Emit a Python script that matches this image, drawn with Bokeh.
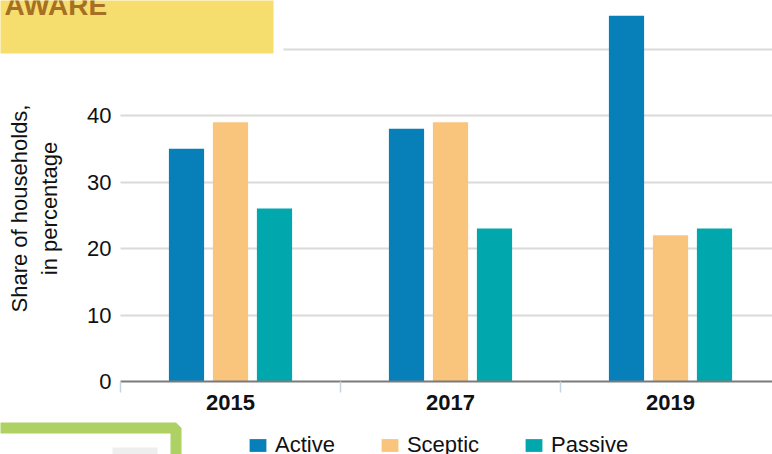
from bokeh.plotting import figure
from bokeh.models import (ColumnDataSource, Range1d, FixedTicker, Legend, LegendItem,
                          BoxAnnotation, Label)
from bokeh.embed import file_html
from bokeh.resources import INLINE

# ---- data ----
years = ["2015", "2017", "2019"]
series = ["Active", "Sceptic", "Passive"]
active = [35, 38, 55]
sceptic = [39, 39, 22]
passive = [26, 23, 23]
y_ticks = [0, 10, 20, 30, 40]
grid_ticks = [10, 20, 30, 40, 50]

colors = {"Active": "#0780BA", "Sceptic": "#F9C57C", "Passive": "#00A8AD"}
values = {"Active": active, "Sceptic": sceptic, "Passive": passive}
offsets = {"Active": -0.2, "Sceptic": 0.0, "Passive": 0.2}

FONT = "Liberation Sans"
W, H = 772, 454
X0, Y0 = 120, 381          # pixel position of the axes origin
PX_CAT, PX_UNIT = 220, 6.65  # pixels per category / per percentage point

p = figure(width=W, height=H, output_backend="svg", toolbar_location=None,
           x_range=Range1d(-X0 / PX_CAT, (W - X0) / PX_CAT),
           y_range=Range1d(-(H - Y0) / PX_UNIT, Y0 / PX_UNIT),
           min_border_left=0, min_border_right=0, min_border_top=0,
           min_border_bottom=0, outline_line_color=None)

centers = [i + 0.5 for i in range(len(years))]
items = []
for s in series:
    src = ColumnDataSource(dict(x=[c + offsets[s] for c in centers], top=values[s]))
    r = p.vbar(x="x", top="top", width=0.16, bottom=0, source=src,
               fill_color=colors[s], line_color=None)
    items.append(LegendItem(label=s, renderers=[r]))

# x axis
xa = p.xaxis[0]
xa.fixed_location = 0
xa.bounds = (0, 10)
xa.ticker = FixedTicker(ticks=centers, minor_ticks=[0, 1, 2, 3])
xa.major_label_overrides = {c: y for c, y in zip(centers, years)}
xa.major_tick_line_color = None
xa.major_tick_in = 0
xa.major_tick_out = 0
xa.minor_tick_line_color = "#C8D4E0"
xa.minor_tick_line_width = 1.5
xa.minor_tick_in = 0
xa.minor_tick_out = 11
xa.axis_line_color = "#7A7A7A"
xa.axis_line_width = 2
xa.major_label_text_font = FONT
xa.major_label_text_font_style = "bold"
xa.major_label_text_font_size = "22px"
xa.major_label_text_color = "#111111"
xa.major_label_standoff = 2

# y axis
ya = p.yaxis[0]
ya.fixed_location = 0
ya.bounds = (0, 52)
ya.ticker = FixedTicker(ticks=y_ticks, minor_ticks=[])
ya.axis_line_color = None
ya.major_tick_line_color = None
ya.major_tick_in = 0
ya.major_tick_out = 0
ya.minor_tick_line_color = None
ya.major_label_text_font = FONT
ya.major_label_text_font_size = "22px"
ya.major_label_text_color = "#111111"
ya.major_label_standoff = 9
ya.axis_label = "Share of households,\nin percentage"
ya.axis_label_text_font = FONT
ya.axis_label_text_font_style = "normal"
ya.axis_label_text_font_size = "22px"
ya.axis_label_text_color = "#111111"
ya.axis_label_standoff = 22

p.xgrid.grid_line_color = None
yg = p.ygrid[0]
yg.ticker = FixedTicker(ticks=grid_ticks)
yg.grid_line_color = "#DADADA"
yg.grid_line_width = 2
if "cross_bounds" in yg.properties():
    yg.cross_bounds = (0, 10)

legend = Legend(items=items, orientation="horizontal", location=(247, -4),
                glyph_width=21, glyph_height=16, label_standoff=7, spacing=44,
                padding=0, margin=0, border_line_color=None,
                background_fill_alpha=0, label_text_font=FONT,
                label_text_font_size="22px", label_text_color="#111111")
p.add_layout(legend, "center")

# decorative boxes (screen units: x from left, y up from the bottom edge)
def sbox(left, right, top, bottom, **kw):
    return BoxAnnotation(left=left, right=right, top=H - top, bottom=H - bottom,
                         left_units="screen", right_units="screen",
                         top_units="screen", bottom_units="screen",
                         fill_alpha=1, line_alpha=1, **kw)

p.add_layout(sbox(-5, 283, -5, 58, fill_color="white", line_color=None))
p.add_layout(sbox(-5, 273, -5, 53, fill_color="#F5DD6E", line_color=None))
p.add_layout(Label(x=4, y=H - 5, x_units="screen", y_units="screen", text="AWARE",
                   text_font=FONT, text_font_style="bold", text_font_size="28px",
                   text_color="#A66F24", text_baseline="alphabetic"))
p.add_layout(sbox(-10, 175.5, 427.5, 470, fill_color="white",
                  line_color="#ADD162", line_width=11))
p.add_layout(sbox(112, 157, 447, 470, fill_color="#EEEEEE", line_color=None))

open("out.html", "w").write(file_html(p, INLINE))
